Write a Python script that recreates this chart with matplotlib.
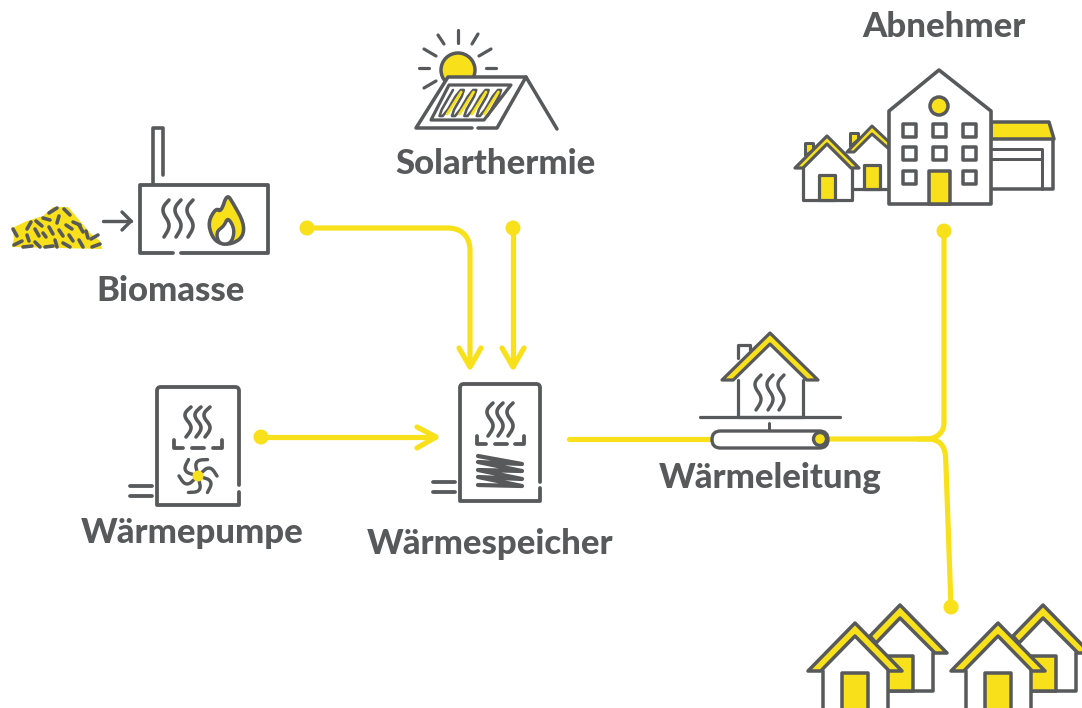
import numpy as np
import matplotlib
matplotlib.use('Agg')
import matplotlib.pyplot as plt
from matplotlib.patches import Circle, FancyBboxPatch, Polygon

plt.rcParams['font.family'] = ['Lato', 'DejaVu Sans']

GRAY = '#58595b'
YELLOW = '#f8e11b'

labels = ['Abnehmer', 'Solarthermie', 'Biomasse', 'Wärmepumpe', 'Wärmespeicher', 'Wärmeleitung']
label_x = [944, 495, 171, 192, 490, 770]
label_y = [27, 164, 291, 533, 544, 478]

# pipes, in picture pixels: straight run, corner, straight run
pipe_biomass = [[(307, 228), (436, 228)], [(436, 228), (458, 228), (470, 240), (470, 262)], [(470, 262), (470, 366)]]
pipe_up = [[(830, 439), (918, 439)], [(918, 439), (934, 439), (944, 430), (944, 414)], [(944, 414), (944, 231)]]
pipe_down = [[(918, 439), (936, 439), (945, 448), (946, 466)], [(946, 466), (951, 607)]]
pipe_solar = [(513, 228), (513, 366)]
pipe_pump = [(261, 437), (435, 437)]
pipe_out = [(569, 439), (712, 439)]
pipe_dots = [(307, 228), (513, 228), (261, 437), (944, 231), (951, 607)]
arrow_heads = [[(459, 348), (470, 367), (481, 348)],
               [(502, 348), (513, 367), (524, 348)],
               [(417, 427), (436, 437), (417, 448)]]

pellet_pile = [(12, 247), (14, 238), (12, 228), (27, 221), (43, 216), (53, 207), (68, 207), (80, 221),
               (90, 233), (100, 241), (102, 249)]
pellets = [(49, 213, 57, 208), (64, 209, 70, 215), (43, 218, 50, 220), (59, 216, 57, 223), (27, 229, 31, 222),
           (36, 221, 42, 226), (73, 222, 80, 225), (66, 225, 72, 229), (49, 227, 53, 234), (35, 229, 39, 236),
           (27, 235, 29, 241), (13, 229, 17, 236), (43, 233, 46, 237), (59, 230, 63, 236), (79, 225, 83, 232),
           (86, 231, 88, 238), (91, 239, 98, 235), (69, 235, 73, 241), (14, 245, 22, 241), (23, 247, 32, 246),
           (35, 242, 40, 247), (45, 247, 53, 246), (55, 240, 57, 247), (63, 243, 70, 247), (79, 240, 83, 247),
           (92, 247, 100, 244)]


def smooth(pts, n=3, closed=False):
    pts = np.array(pts, dtype=float)
    for _ in range(n):
        a = pts if closed else pts[:-1]
        b = np.roll(pts, -1, axis=0) if closed else pts[1:]
        q = 0.75 * a + 0.25 * b
        r = 0.25 * a + 0.75 * b
        new = np.empty((len(a) * 2, 2))
        new[0::2] = q
        new[1::2] = r
        if not closed:
            new = np.vstack([pts[0], new, pts[-1]])
        pts = new
    return pts


fig = plt.figure(figsize=(10.82, 7.08), dpi=100)
ax = fig.add_axes([0, 0, 1, 1])
ax.set_xlim(0, 1082)
ax.set_ylim(708, 0)
ax.axis('off')


def line(pts, color=GRAY, w=3.5, z=3):
    pts = np.asarray(pts, dtype=float)
    ax.plot(pts[:, 0], pts[:, 1], color=color, lw=w * 0.72, solid_capstyle='round',
            solid_joinstyle='round', zorder=z)


def poly(pts, fc=YELLOW, ec=GRAY, w=3.5, z=3):
    ax.add_patch(Polygon(pts, closed=True, fc=fc, ec=ec, lw=w * 0.72, joinstyle='round', zorder=z))


def pipe(parts):
    pts = []
    for part in parts:
        pts += [tuple(p) for p in (smooth(part, 3) if len(part) > 2 else part)]
    line(pts, YELLOW, 5.2, z=2)


def wave(x, y, h, w=3.6):
    line(smooth([(x + 3, y), (x - 3, y + h * .18), (x - 3, y + h * .36), (x + 3, y + h * .6),
                 (x + 3, y + h * .78), (x - 2, y + h)], 3), w=w)


def boiler(x0, x1, y0, y1, gap):
    r = 8
    corner = [(x1, y0 + r), (x1, y0), (x1 - r, y0)]
    left = [(x0 + r, y0), (x0, y0), (x0, y0 + r)]
    top = np.vstack([smooth(corner), smooth(left)])
    line(np.vstack([[(x1, gap[0])], top, [(x0, y1), (x1, y1), (x1, gap[1])]]), w=3.8)
    line([(x0 - 27, y1 - 19), (x0 - 5, y1 - 19)], w=3.8)
    line([(x0 - 27, y1 - 9), (x0 - 5, y1 - 9)], w=3.8)


def bracket(x0, x1, y0, y1):
    line([(x0, y0), (x0, y1), (x0 + 9, y1)], w=3.8)
    line([((x0 + x1) / 2 - 6, y1), ((x0 + x1) / 2 + 6, y1)], w=3.8)
    line([(x1 - 9, y1), (x1, y1), (x1, y0)], w=3.8)


def house(px, py, hw, drop, band, wl, wr, base, w=3.5):
    # white body, then walls, then the yellow roof band on top
    iy = py + drop
    ins = hw - band * hw / drop
    poly([(wl, iy), (px, py + band), (wr, iy), (wr, base), (wl, base)], fc='white', ec='none')
    line([(wl, iy), (wl, base), (wr, base), (wr, iy)], w=w)
    poly([(px - hw, iy), (px, py), (px + hw, iy), (px + ins, iy), (px, py + band), (px - ins, iy)], w=w)


# pipes
for p in [pipe_biomass, pipe_up, pipe_down]:
    pipe(p)
for p in [pipe_solar, pipe_pump, pipe_out]:
    line(p, YELLOW, 5.2, z=2)
for p in arrow_heads:
    line(p, YELLOW, 5.2, z=2)
for x, y in pipe_dots:
    ax.add_patch(Circle((x, y), 7.5, fc=YELLOW, ec='none', zorder=2))

# biomass
poly(pellet_pile, ec='none', z=2)
for a, b, c, d in pellets:
    line([(a, b), (c, d)], w=3.6)
line([(103, 221), (131, 221)], w=3.4)
line([(122, 212), (131, 221), (122, 230)], w=3.4)
line([(153, 184), (153, 128), (163, 128), (163, 175)], w=3.6)
line([(173, 253), (140, 253), (140, 185), (268, 185), (268, 253), (181, 253)], w=3.8)
for x in [166, 178, 190]:
    wave(x, 200, 37)
flame = [(227, 194), (233, 203), (244, 223), (243, 237), (232, 244), (220, 244), (212, 237), (208, 222),
         (216, 208), (221, 212)]
poly(smooth(flame, 2, closed=True), w=3.6)
poly(smooth([(219, 244), (216, 232), (224, 226), (228, 217), (235, 230), (231, 244)], 2, closed=True), fc='white', w=3.4)

# solar
ax.add_patch(Circle((458, 70), 17, fc=YELLOW, ec=GRAY, lw=2.5, zorder=2))
rays = [(458, 30, 458, 43), (438, 35, 444, 44), (478, 34, 472, 44), (424, 49, 436, 56), (491, 49, 479, 56),
        (419, 68, 429, 68), (486, 68, 496, 68), (424, 88, 436, 81)]
for a, b, c, d in rays:
    line([(a, b), (c, d)], w=3.2)
poly([(448, 77), (526, 77), (497, 128), (416, 128)], fc='white', ec='none', z=3)
line([(472, 128), (416, 128), (448, 77), (526, 77), (497, 128), (478, 128)], z=4)
line([(526, 77), (557, 129)], z=4)
poly([(449, 85), (511, 85), (484, 120), (431, 120)], fc='white', w=3.2, z=4)
top_x = np.arange(9) * 6.2 + 453
serp = []
for i, tx in enumerate(top_x):
    ends = [(tx, 90), (tx - 15, 116)]
    serp += ends if i % 2 == 0 else ends[::-1]
line(smooth(serp, 1), w=2.6, z=5)
for tx in top_x[1::2]:
    line([(tx + 2, 92), (tx - 12, 114)], YELLOW, 2.8, z=5)

# heat pump
boiler(157, 239, 387, 505, (485, 492))
for x in [188, 198, 207]:
    wave(x, 407, 30)
bracket(174, 222, 440, 448)
fan_c = (198, 476)
for a in np.arange(6) * np.pi / 3 + 0.3:
    ang = [a, a, a + 0.25, a + 0.75]
    rad = [5, 12, 16, 19]
    line(smooth([(fan_c[0] + r * np.cos(t), fan_c[1] + r * np.sin(t)) for r, t in zip(rad, ang)], 2), w=3.4)
ax.add_patch(Circle(fan_c, 5.5, fc=YELLOW, ec='none', zorder=5))

# storage
boiler(460, 540, 384, 501, (482, 488))
for x in [490, 500, 510]:
    wave(x, 403, 33)
bracket(477, 524, 436, 444)
coil = [(478, 456), (522, 464), (478, 462), (522, 471), (478, 470), (522, 479), (478, 477), (522, 486), (478, 485)]
line(coil, w=4.2)

# house on the pipe
line([(738, 358), (738, 345), (750, 345), (750, 350)], w=3.2)
house(770, 333, 48, 47, 11, 738, 803, 417, w=3.2)
line([(700, 417), (840, 417)], w=3.2)
for x in [758, 770, 781]:
    wave(x, 375, 35, w=3.4)
line([(769, 423), (769, 431)], w=3)
ax.add_patch(FancyBboxPatch((712, 431), 116, 17, boxstyle='round,pad=0,rounding_size=8.5', fc='white', ec=GRAY,
                            lw=2.4, zorder=4))
ax.add_patch(Circle((820, 439), 6.5, fc=YELLOW, ec=GRAY, lw=2.4, zorder=5))

# consumers, top
poly([(991, 122), (1049, 122), (1054, 139), (991, 139)])
line([(991, 189), (1053, 189), (1053, 139)])
line([(991, 149), (1042, 149), (1042, 189)], w=3)
line([(991, 159), (1042, 159)], w=3)
poly([(889, 111), (939, 70), (991, 111), (991, 204), (889, 204)], fc='white', w=3.6)
ax.add_patch(Circle((939, 106), 9, fc=YELLOW, ec=GRAY, lw=2.5, zorder=4))
win_x = [909, 939, 969]
win_y = [130, 153, 177]
for wx in win_x:
    for wy in win_y:
        if not (wx == 939 and wy == 177):
            poly([(wx - 6.5, wy - 6.5), (wx + 6.5, wy - 6.5), (wx + 6.5, wy + 6.5), (wx - 6.5, wy + 6.5)], fc='white', z=4)
poly([(929, 171), (950, 171), (950, 204), (929, 204)], z=4)

poly([(850, 146), (850, 133), (858, 133), (858, 139)], w=3, z=2)
poly([(853, 152), (872, 130), (889, 147), (889, 189), (853, 189)], fc='white', ec='none', z=2)
line([(853, 189), (889, 189)], w=3.2, z=2)
poly([(847, 152), (872, 126), (889, 142), (889, 149), (872, 134), (854, 152)], w=3, z=2)
poly([(864, 165), (880, 165), (880, 189), (864, 189)], w=3.2, z=2)

poly([(805, 155), (805, 143), (813, 143), (813, 150)], w=3, z=3)
house(827, 136, 32, 32, 8, 803, 852, 200, w=3.2)
poly([(819, 175), (835, 175), (835, 200), (819, 200)], w=3.2, z=4)

# consumers, bottom
for dx in [0, 143]:
    poly([(872 + dx, 655), (900 + dx, 618), (933 + dx, 653), (933 + dx, 691), (872 + dx, 691)], fc='white', ec='none')
    line([(888 + dx, 691), (933 + dx, 691), (933 + dx, 653)])
    poly([(870 + dx, 636), (900 + dx, 605), (947 + dx, 653), (935 + dx, 653), (900 + dx, 618), (876 + dx, 643)])
    poly([(885 + dx, 656), (913 + dx, 656), (913 + dx, 691), (885 + dx, 691)])
    house(855 + dx, 623, 47, 48, 13, 823 + dx, 888 + dx, 712)
    poly([(842 + dx, 673), (868 + dx, 673), (868 + dx, 712), (842 + dx, 712)])

for t, x, y in zip(labels, label_x, label_y):
    ax.text(x, y, t, ha='center', va='center', color=GRAY, fontsize=25, fontweight=900, zorder=6)

fig.savefig('out.png', dpi=100)
